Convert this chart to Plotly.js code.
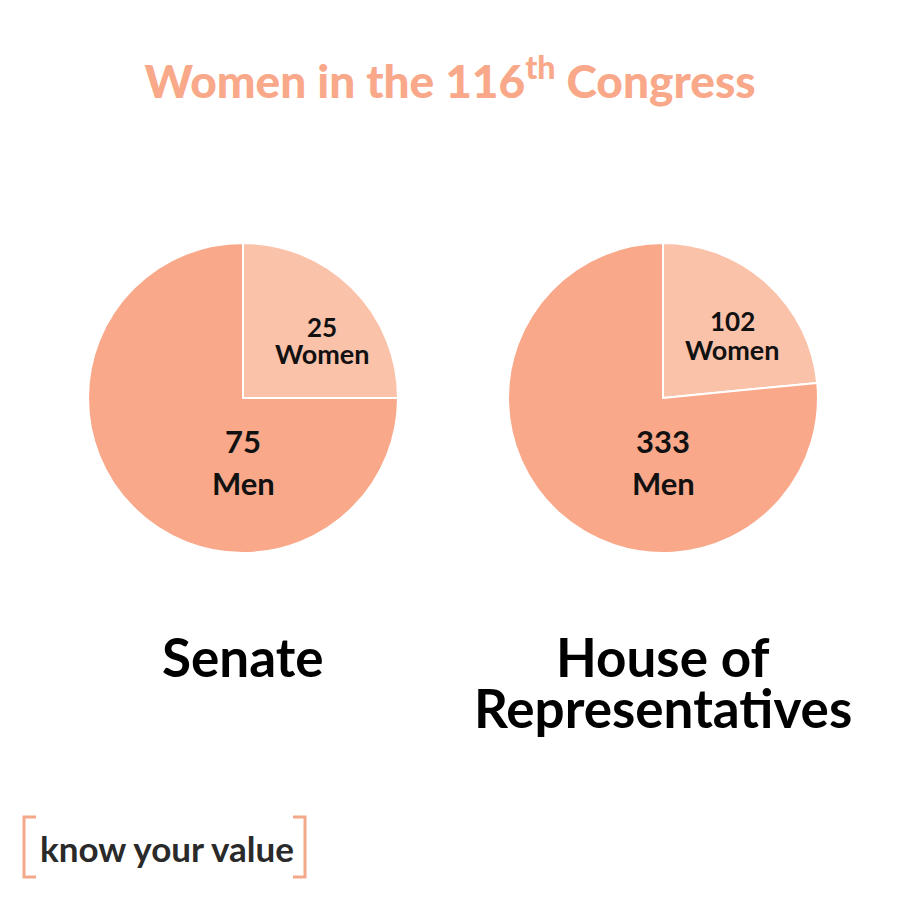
<!DOCTYPE html>
<html>
<head>
<meta charset="utf-8">
<script src="https://cdn.plot.ly/plotly-3.0.1.min.js"></script>
<style>html,body{margin:0;padding:0;background:#fff;}#chart{width:900px;height:900px;}</style>
</head>
<body>
<div id="chart"></div>
<script>
const categories = ["Women", "Men"];
const senateValues = [25, 75];
const houseValues = [102, 333];
const chamberNames = ["Senate", "House of", "Representatives"];
const chartTitle = "Women in the 116<sup>th</sup> Congress";
const brandText = "know your value";

const colors = ["#FBC2AA", "#F9A889"];
const FONT = "Lato, 'Open Sans', sans-serif";

function pieTrace(values, xdom) {
  return {
    type: "pie",
    labels: categories,
    values: values,
    sort: false,
    direction: "clockwise",
    rotation: 0,
    domain: {x: xdom, y: [0.3856, 0.73]},
    marker: {colors: colors, line: {color: "#ffffff", width: 2}},
    textinfo: "none",
    hoverinfo: "label+value",
    showlegend: false
  };
}

const data = [
  pieTrace(senateValues, [0.0978, 0.4422]),
  pieTrace(houseValues, [0.5644, 0.9089])
];

function ann(text, px, py, size, color, weight) {
  return {text: text, x: px/900, y: 1 - py/900, xref: "paper", yref: "paper",
    xanchor: "center", yanchor: "middle", showarrow: false,
    font: {family: FONT, size: size, color: color, weight: weight}};
}

// slice label anchor positions (layout only)
const labelPos = [
  {women: [[322, 327], [322, 353]], men: [[243, 441], [243, 483]]},
  {women: [[732, 321], [732, 350]], men: [[663, 441], [663, 483]]}
];
const seriesList = [senateValues, houseValues];

const annotations = [];
seriesList.forEach(function (vals, i) {
  const p = labelPos[i];
  annotations.push(ann(String(vals[0]), p.women[0][0], p.women[0][1], 26, "#111111", 700));
  annotations.push(ann(categories[0], p.women[1][0], p.women[1][1], 27, "#111111", 700));
  annotations.push(ann(String(vals[1]), p.men[0][0], p.men[0][1], 31, "#111111", 700));
  annotations.push(ann(categories[1], p.men[1][0], p.men[1][1], 31, "#111111", 700));
});
annotations.push(ann(chamberNames[0], 243, 656, 53, "#000000", 700));
annotations.push(ann(chamberNames[1], 663, 656, 53, "#000000", 700));
annotations.push(ann(chamberNames[2], 663, 707, 53, "#000000", 700));
annotations.push(ann(brandText, 167, 848, 35, "#2a2a2a", 700));

const layout = {
  width: 900, height: 900,
  margin: {l: 0, r: 0, t: 0, b: 0},
  paper_bgcolor: "#ffffff",
  plot_bgcolor: "#ffffff",
  showlegend: false,
  title: {
    text: chartTitle,
    x: 0.5, xanchor: "center",
    y: 1 - 82/900, yanchor: "middle",
    font: {family: FONT, size: 46, color: "#F9A889", weight: 900}
  },
  annotations: annotations,
  shapes: [
    {type: "path", xref: "paper", yref: "paper",
     path: "M " + (36/900) + "," + (1-817/900) + " L " + (24/900) + "," + (1-817/900) + " L " + (24/900) + "," + (1-877/900) + " L " + (36/900) + "," + (1-877/900),
     line: {color: "#F4A88A", width: 3}},
    {type: "path", xref: "paper", yref: "paper",
     path: "M " + (293/900) + "," + (1-817/900) + " L " + (305/900) + "," + (1-817/900) + " L " + (305/900) + "," + (1-877/900) + " L " + (293/900) + "," + (1-877/900),
     line: {color: "#F4A88A", width: 3}}
  ]
};

Plotly.newPlot("chart", data, layout, {displayModeBar: false, staticPlot: true});
</script>
</body>
</html>
